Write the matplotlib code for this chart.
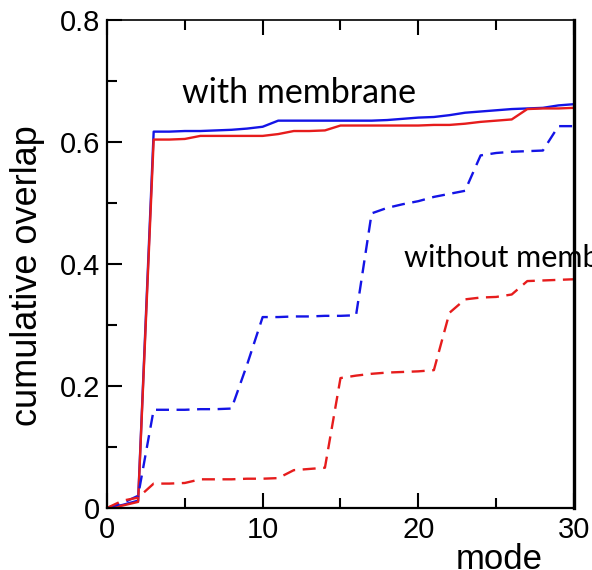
import matplotlib
matplotlib.use('Agg')
import matplotlib.pyplot as plt
from matplotlib.ticker import MultipleLocator, FuncFormatter

modes = list(range(31))

blue_with = [0, 0.005, 0.012, 0.617, 0.617, 0.618, 0.618, 0.619, 0.620, 0.622,
             0.625, 0.635, 0.635, 0.635, 0.635, 0.635, 0.635, 0.635, 0.636, 0.638,
             0.640, 0.641, 0.644, 0.648, 0.650, 0.652, 0.654, 0.655, 0.656, 0.660, 0.662]
red_with = [0, 0.004, 0.010, 0.604, 0.604, 0.605, 0.610, 0.610, 0.610, 0.610,
            0.610, 0.613, 0.618, 0.618, 0.619, 0.627, 0.627, 0.627, 0.627, 0.627,
            0.627, 0.628, 0.628, 0.630, 0.633, 0.635, 0.637, 0.654, 0.655, 0.655, 0.656]
blue_without = [0, 0.008, 0.020, 0.161, 0.161, 0.161, 0.162, 0.162, 0.163, 0.235,
                0.313, 0.313, 0.314, 0.314, 0.315, 0.315, 0.316, 0.483, 0.492, 0.498,
                0.503, 0.510, 0.515, 0.520, 0.578, 0.582, 0.584, 0.585, 0.586, 0.626, 0.626]
red_without = [0, 0.012, 0.017, 0.040, 0.040, 0.041, 0.047, 0.047, 0.047, 0.048,
               0.048, 0.049, 0.062, 0.064, 0.066, 0.213, 0.217, 0.220, 0.222, 0.223,
               0.224, 0.226, 0.320, 0.342, 0.345, 0.346, 0.350, 0.372, 0.373, 0.374, 0.375]

BLUE = '#1414e6'
RED = '#e61c1c'

plt.rcParams['font.family'] = ['Liberation Sans', 'DejaVu Sans']

fig = plt.figure(figsize=(5.92, 5.70), dpi=100)
ax = fig.add_axes([0.1807, 0.1088, 0.7889, 0.8561])

ax.plot(modes, blue_with, color=BLUE, lw=1.7)
ax.plot(modes, red_with, color=RED, lw=1.7)
ax.plot(modes, blue_without, color=BLUE, lw=1.7, linestyle=(0, (5.5, 3.2)))
ax.plot(modes, red_without, color=RED, lw=1.7, linestyle=(0, (5.5, 3.2)))

ax.set_xlim(0, 30)
ax.set_ylim(0, 0.8)
ax.xaxis.set_major_locator(MultipleLocator(10))
ax.xaxis.set_minor_locator(MultipleLocator(5))
ax.yaxis.set_major_locator(MultipleLocator(0.2))
ax.yaxis.set_minor_locator(MultipleLocator(0.1))
ax.yaxis.set_major_formatter(FuncFormatter(lambda v, p: '0' if abs(v) < 1e-9 else '%.1f' % v))
ax.xaxis.set_major_formatter(FuncFormatter(lambda v, p: '%d' % v))

ax.tick_params(which='both', direction='in', top=True, right=False, width=1.5)
ax.tick_params(which='major', length=11, labelsize=21)
ax.tick_params(which='minor', length=7)
ax.tick_params(axis='x', pad=6)
ax.tick_params(axis='y', pad=5)

for side, w in [('left', 1.6), ('bottom', 1.6), ('top', 1.2), ('right', 2.4)]:
    ax.spines[side].set_linewidth(w)

ax.set_ylabel('cumulative overlap', fontsize=26)
ax.yaxis.set_label_coords(-0.133, 0.477)
ax.set_xlabel('mode', fontsize=25)
ax.xaxis.set_label_coords(0.839, -0.072)

# labels are cut by the right spine / figure edge, like the original
ax.text(4.8, 0.664, 'with membrane', family='Lato', fontsize=24.5,
        zorder=2, clip_on=False)
ax.text(19.1, 0.395, 'without membrane', family='Lato', fontsize=22,
        zorder=2, clip_on=False)

fig.savefig('out.png', dpi=100)
